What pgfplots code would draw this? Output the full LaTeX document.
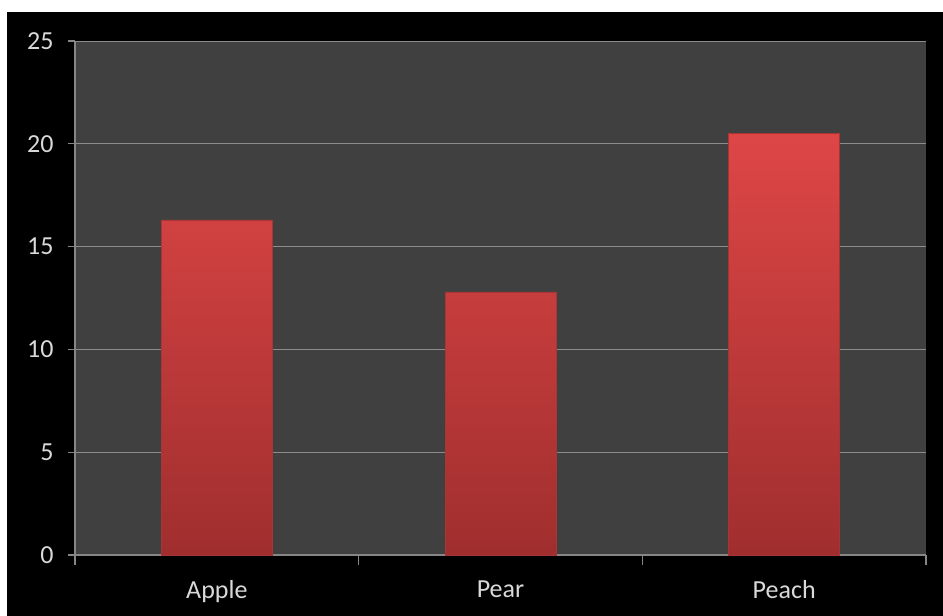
\documentclass[border=0pt]{standalone}
\usepackage{fontspec}
\setmainfont{Carlito}
\usepackage{pgfplots}
\pgfplotsset{compat=1.18}
\definecolor{bgarea}{HTML}{404040}
\definecolor{axisgray}{HTML}{868686}
\definecolor{gridgray}{HTML}{8C8C8C}
\definecolor{labelgray}{HTML}{D9D9D9}
\definecolor{barTop}{HTML}{DE4646}
\definecolor{barMid}{HTML}{C83C3C}
\definecolor{barBot}{HTML}{A02E2E}
\definecolor{barEdge}{HTML}{A83434}
\begin{document}
\begin{tikzpicture}
\fill[white] (0,0) rectangle (943bp,-616bp);
\fill[black] (7bp,-12bp) rectangle (943bp,-616bp);
\begin{axis}[
 at={(75bp,-555bp)}, anchor=south west,
 scale only axis, width=851bp, height=514bp,
 xmin=-0.5, xmax=2.5, ymin=0, ymax=25,
 xtick={0,1,2}, xticklabels={Apple,Pear,Peach},
 minor xtick={-0.5,0.5,1.5,2.5},
 ytick={0,5,...,25},
 tick align=outside,
 major tick length=7bp, minor tick length=10bp,
 major x tick style={draw=none},
 axis x line*=bottom, axis y line*=left,
 axis line style={draw=axisgray, line width=1.2bp, -},
 ymajorgrids, major grid style={draw=gridgray, line width=0.8bp},
 tick style={draw=axisgray, line width=1.2bp},
 axis background/.style={fill=bgarea},
 ticklabel style={font=\fontsize{26bp}{30bp}\selectfont, text=labelgray},
 yticklabel style={xshift=-11bp},
 xticklabel style={yshift=-15bp},
 /pgf/number format/assume math mode=true,
 ybar, bar width=111bp,
]
\addplot[ybar, draw=barEdge, top color=barTop, middle color=barMid, bottom color=barBot] coordinates {(0,16.3) (1,12.8) (2,20.5)};
\end{axis}
\pgfresetboundingbox
\useasboundingbox (0,0) rectangle (943bp,-616bp);
\end{tikzpicture}
\end{document}
